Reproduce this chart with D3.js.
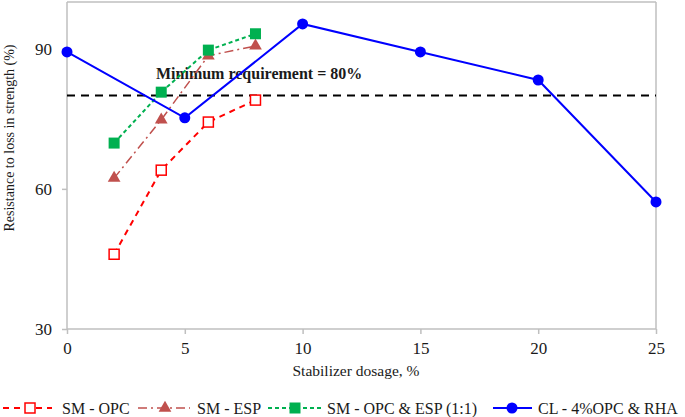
<!DOCTYPE html>
<html><head><meta charset="utf-8">
<script src="https://cdn.jsdelivr.net/npm/d3@7"></script>
<style>body{margin:0;background:#fff}svg{display:block}svg text{font-family:"Liberation Serif","Tinos","DejaVu Serif","Noto Serif",serif;fill:#1a1a1a}</style>
</head><body><div id="chart"></div>
<script>
const dosageSM = [2, 4, 6, 8];
const dosageCL = [0, 5, 10, 15, 20, 25];
const smOPC = [46, 64, 74.3, 79];
const smESP = [62.3, 74.8, 88.5, 90.6];
const smOPCESP = [69.8, 80.7, 89.7, 93.2];
const clOPCRHA = [89.3, 75.2, 95.3, 89.3, 83.3, 57.2];
const xTicks = [0, 5, 10, 15, 20, 25];
const yTicks = [30, 60, 90];
const requirement = 80;
const seriesNames = ["SM - OPC", "SM - ESP", "SM - OPC & ESP (1:1)", "CL - 4%OPC & RHA"];

const FONT = '"Liberation Serif","Tinos","DejaVu Serif","Noto Serif",serif';
const W = 685, H = 417;
const svg = d3.select("#chart").append("svg").attr("width", W).attr("height", H);
const x = d3.scaleLinear().domain([0, 25]).range([67, 656]);
const y = d3.scaleLinear().domain([30, 100]).range([329, 2]);
const grey = "#bfbfbf";

svg.append("line").attr("x1", x(0)).attr("x2", x(25)).attr("y1", y(100)).attr("y2", y(100)).attr("stroke", grey).attr("stroke-width", 1.5);
svg.append("line").attr("x1", x(25)).attr("x2", x(25)).attr("y1", y(100)).attr("y2", y(30)).attr("stroke", grey).attr("stroke-width", 1.5);

const xAxis = svg.append("g").attr("transform", `translate(0,${y(30)})`)
  .call(d3.axisBottom(x).tickValues(xTicks).tickSize(5).tickPadding(8).tickFormat(d3.format("d")));
const yAxis = svg.append("g").attr("transform", `translate(${x(0)},0)`)
  .call(d3.axisLeft(y).tickValues(yTicks).tickSize(5).tickPadding(10).tickFormat(d3.format("d")));
[xAxis, yAxis].forEach(g => {
  g.attr("font-family", FONT);
  g.select(".domain").attr("stroke", grey).attr("stroke-width", 1.5);
  g.selectAll(".tick line").attr("stroke", grey).attr("stroke-width", 1.5);
  g.selectAll(".tick text").attr("font-size", 17).attr("font-family", FONT).attr("fill", "#1a1a1a");
});
yAxis.select(".domain").attr("d", `M0,${y(100)}V${y(30)}`);
xAxis.select(".domain").attr("d", `M${x(0)},0H${x(25)}`);

svg.append("line").attr("x1", x(0)).attr("x2", x(25)).attr("y1", y(requirement)).attr("y2", y(requirement))
  .attr("stroke", "#000").attr("stroke-width", 2).attr("stroke-dasharray", "8,6");
svg.append("text").attr("x", 156).attr("y", 79).attr("font-size", 16).attr("font-weight", "bold").attr("font-family", FONT)
  .text("Minimum requirement = " + requirement + "%");

const styles = [
  {data: smOPC, xs: dosageSM, color: "#ff0000", dash: "6,5", width: 2, marker: "openSquare"},
  {data: smESP, xs: dosageSM, color: "#c0504d", dash: "9,4,2,4", width: 1.5, marker: "triangle"},
  {data: smOPCESP, xs: dosageSM, color: "#00b050", dash: "4,3", width: 2, marker: "square"},
  {data: clOPCRHA, xs: dosageCL, color: "#0000ff", dash: null, width: 2, marker: "circle"}
];
const line = d3.line().x(d => x(d[0])).y(d => y(d[1]));

function drawMarker(g, type, color, cx, cy) {
  if (type === "openSquare") g.append("rect").attr("x", cx - 5).attr("y", cy - 5).attr("width", 10).attr("height", 10).attr("fill", "#fff").attr("stroke", color).attr("stroke-width", 1.5);
  else if (type === "square") g.append("rect").attr("x", cx - 5.5).attr("y", cy - 5.5).attr("width", 11).attr("height", 11).attr("fill", color);
  else if (type === "triangle") g.append("path").attr("d", d3.symbol(d3.symbolTriangle, 70)()).attr("transform", `translate(${cx},${cy})`).attr("fill", color);
  else g.append("circle").attr("cx", cx).attr("cy", cy).attr("r", 5.5).attr("fill", color);
}

styles.forEach(s => {
  const pts = s.xs.map((v, i) => [v, s.data[i]]);
  svg.append("path").attr("d", line(pts)).attr("fill", "none").attr("stroke", s.color)
    .attr("stroke-width", s.width).attr("stroke-dasharray", s.dash);
  const g = svg.append("g");
  pts.forEach(p => drawMarker(g, s.marker, s.color, x(p[0]), y(p[1])));
});

svg.append("text").attr("x", 356).attr("y", 376).attr("text-anchor", "middle").attr("font-size", 15.5).attr("font-family", FONT).text("Stabilizer dosage, %");
svg.append("text").attr("transform", "translate(14,138) rotate(-90)").attr("text-anchor", "middle").attr("font-size", 14).attr("font-family", FONT).text("Resistance to loss in strength (%)");

const legendPos = [
  {l0: 3, l1: 52, m: 30, t: 62},
  {l0: 138, l1: 190, m: 165, t: 197},
  {l0: 268, l1: 322, m: 295, t: 327},
  {l0: 493, l1: 532, m: 512, t: 538}
];
const ly = 408;
styles.forEach((s, i) => {
  const p = legendPos[i];
  const g = svg.append("g");
  g.append("line").attr("x1", p.l0).attr("x2", p.l1).attr("y1", ly).attr("y2", ly).attr("stroke", s.color)
    .attr("stroke-width", s.width).attr("stroke-dasharray", s.dash);
  drawMarker(g, s.marker, s.color, p.m, ly);
  g.append("text").attr("x", p.t).attr("y", ly + 6).attr("font-size", 16).attr("font-family", FONT).text(seriesNames[i]);
});
</script></body></html>
